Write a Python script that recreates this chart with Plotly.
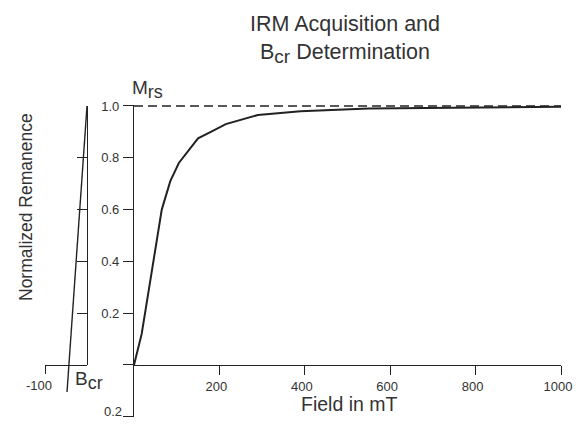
import plotly.graph_objects as go

# ---- data ----
irm_field = [0, 18, 65, 85, 105, 150, 180, 215, 290, 390, 550, 750, 1000]
irm_remanence = [0.0, 0.12, 0.60, 0.71, 0.78, 0.875, 0.90, 0.93, 0.965, 0.98, 0.99, 0.994, 0.997]

mrs_field = [0, 1000]
mrs_level = [1.0, 1.0]

backfield_field = [0, -47.6]
backfield_remanence = [1.0, -0.104]

y_tickvals = [-0.2, 0, 0.2, 0.4, 0.6, 0.8, 1.0]
y_ticktext = [" ", " ", "0.2", "0.4", "0.6", "0.8", "1.0"]
y_low_tickvals = [-0.2]
y_low_ticktext = ["0.2"]
x_tickvals = [200, 400, 600, 800, 1000]
x_ticktext = ["200", "400", "600", "800", "1000"]
bf_tickvals = [-100]
bf_ticktext = ["-100"]
bf_frame_ticks = [0.2, 0.4, 0.6, 0.8, 1.0]

# page body has an 8px margin: figure sized to fit inside the 581x428 window
OFF = 8
W, H = 581 - 2 * OFF, 428 - 2 * OFF
def fx(px):
    return (px - OFF) / W
def fy(py):
    return 1 - (py - OFF) / H

FONT = "Liberation Sans, Arial, Helvetica, sans-serif"
TXT = "#333333"
LN = "#222222"

y_top = 1.005
px_per_unit = 259.0  # pixels for 1.0 remanence
dom_top_px = 106 - (y_top - 1.0) * px_per_unit

def sub(base, s, size):
    return f'{base}<sub><span style="font-size:{size}px">{s}</span></sub>'

fig = go.Figure()

fig.add_trace(go.Scatter(x=mrs_field, y=mrs_level, mode="lines",
                         line=dict(color=LN, width=1.3, dash="9px,5px"),
                         xaxis="x", yaxis="y", showlegend=False, hoverinfo="skip"))
fig.add_trace(go.Scatter(x=irm_field, y=irm_remanence, mode="lines",
                         line=dict(color=LN, width=2),
                         xaxis="x", yaxis="y", showlegend=False))
fig.add_trace(go.Scatter(x=backfield_field, y=backfield_remanence, mode="lines",
                         line=dict(color=LN, width=1.4),
                         xaxis="x2", yaxis="y2", showlegend=False))
fig.add_trace(go.Scatter(x=[], y=[], mode="lines", xaxis="x2", yaxis="y3",
                         showlegend=False))
fig.add_trace(go.Scatter(x=[], y=[], mode="lines", xaxis="x", yaxis="y4",
                         showlegend=False))

axis_common = dict(showgrid=False, zeroline=False, showline=True, automargin=False,
                   linecolor=LN, linewidth=1.3, tickcolor=LN, tickwidth=1.3,
                   tickfont=dict(family=FONT, size=13, color=TXT))

fig.update_layout(
    width=W, height=H, autosize=False,
    margin=dict(l=0, r=0, t=0, b=0, pad=0, autoexpand=False),
    paper_bgcolor="white", plot_bgcolor="rgba(0,0,0,0)",
    showlegend=False,
    title=dict(text="IRM Acquisition and<br>" + sub("B", "cr", 19) + " Determination",
               font=dict(family=FONT, size=21.5, color=TXT),
               x=fx(345), xanchor="center", xref="paper",
               y=fy(31), yanchor="middle", yref="container", automargin=False),
    xaxis=dict(domain=[fx(134), fx(561)], range=[0, 1000], anchor="free",
               position=fy(365), ticks="outside", ticklen=9, ticklabelshift=-3,
               tickvals=x_tickvals, ticktext=x_ticktext, **axis_common),
    yaxis=dict(domain=[fy(416.8), fy(dom_top_px)], range=[-0.2, y_top], anchor="x",
               ticks="outside", ticklen=10, tickvals=y_tickvals, ticktext=y_ticktext,
               ticklabelstandoff=1, **axis_common),
    yaxis4=dict(overlaying="y", range=[-0.2, y_top], anchor="x", side="left",
                showgrid=False, zeroline=False, showline=False, automargin=False,
                ticks="", tickvals=y_low_tickvals, ticktext=y_low_ticktext,
                ticklabelstandoff=11, ticklabelshift=-5, ticklabeloverflow="allow",
                tickfont=dict(family=FONT, size=13, color=TXT)),
    xaxis2=dict(domain=[fx(45), fx(87)], range=[-100, 0], anchor="free",
                position=fy(365), ticks="outside", ticklen=8,
                tickvals=bf_tickvals, ticktext=bf_ticktext, ticklabelshift=-6,
                **axis_common),
    yaxis2=dict(domain=[fy(416.8), fy(dom_top_px)], range=[-0.2, y_top], anchor="x2",
                visible=False),
    yaxis3=dict(domain=[fy(365), fy(106)], range=[0, 1.0], anchor="x2", side="right",
                ticks="inside", ticklen=10, tickvals=bf_frame_ticks,
                showticklabels=False, **axis_common),
    annotations=[
        dict(text="Normalized Remanence", xref="paper", yref="paper",
             x=fx(26), y=fy(207), xanchor="center", yanchor="middle",
             textangle=-90, showarrow=False,
             font=dict(family=FONT, size=17.5, color=TXT)),
        dict(text="Field in mT", xref="paper", yref="paper",
             x=fx(349), y=fy(404), xanchor="center", yanchor="middle",
             showarrow=False, font=dict(family=FONT, size=19.5, color=TXT)),
        dict(text=sub("M", "rs", 18), xref="paper", yref="paper",
             x=fx(130), y=fy(89), xanchor="left", yanchor="middle",
             showarrow=False, font=dict(family=FONT, size=19, color=TXT)),
        dict(text=sub("B", "cr", 18), xref="paper", yref="paper",
             x=fx(73), y=fy(380), xanchor="left", yanchor="middle",
             showarrow=False, font=dict(family=FONT, size=19, color=TXT)),
    ],
)

fig.write_html("out.html")
